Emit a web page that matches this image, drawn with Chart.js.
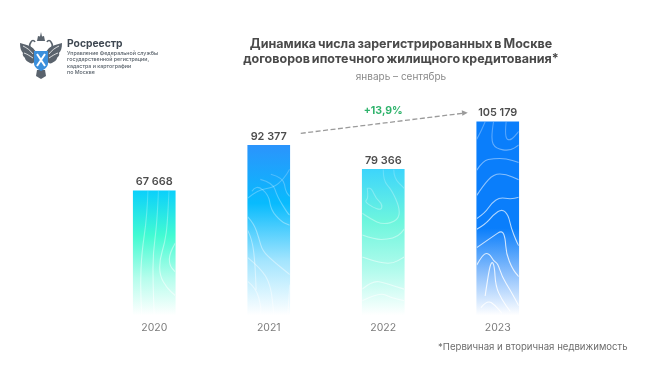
<!DOCTYPE html>
<html lang="ru">
<head>
<meta charset="utf-8">
<title>Динамика числа договоров</title>
<script src="https://cdn.jsdelivr.net/npm/chart.js@4"></script>
<style>
    html, body { margin: 0; padding: 0; background: #fff; }
    #wrap { position: relative; width: 650px; height: 367px; overflow: hidden; font-family: Inter, sans-serif; }
    canvas { position: absolute; left: 0; top: 0; }
    .txt { position: absolute; white-space: nowrap; }
    #heading { left: 200px; width: 402px; top: 36px; text-align: center; font-size: 12.5px; line-height: 15px; font-weight: 700; word-spacing: -1px; color: #4a4a4a; }
    #period { left: 200px; width: 402px; top: 70px; text-align: center; font-size: 10px; color: #8a8a8a; }
    #brand { left: 67px; top: 37px; font-size: 10.3px; font-weight: 700; color: #3f4852; }
    #org { left: 67px; top: 50px; font-size: 5.3px; line-height: 6.4px; font-weight: 500; color: #59626b; }
    #note { left: 438px; top: 341px; font-size: 9.6px; color: #6d6d6d; }
    #logo { position: absolute; left: 19px; top: 32px; }
</style>
</head>
<body>
<div id="wrap">
    <canvas id="chart" width="650" height="367"></canvas>
    <svg id="logo" width="44" height="48" viewBox="0 0 44 48">
        <g fill="#5a636d">
            <path d="M17 21 C15 14 8 13 1 11 C1 16 2 19 4 21 C3 23 5 25 6 26 C6 28 9 30 11 31 C13 32 15 31 16 29 Z"/>
            <path d="M27 21 C29 14 36 13 43 11 C43 16 42 19 40 21 C41 23 39 25 38 26 C38 28 35 30 33 31 C31 32 29 31 28 29 Z"/>
            <path d="M18 9 L19 4 L21 4.5 L22 0 L23 4.5 L25 4 L26 9 Z"/>
            <path d="M18 38 L26 38 L27 44 L22 47 L17 44 Z"/>
        </g>
        <g fill="none" stroke="#5a636d" stroke-width="1.6">
            <path d="M17 20 C11 18 9 14 12 10 C13 8 15 8 16 10"/>
            <path d="M27 20 C33 18 35 14 32 10 C31 8 29 8 28 10"/>
        </g>
        <g fill="none" stroke="#fff" stroke-width="0.8">
            <path d="M4 14 C8 16 11 18 14 22"/>
            <path d="M5 21 C8 22 11 24 14 26"/>
            <path d="M40 14 C36 16 33 18 30 22"/>
            <path d="M39 21 C36 22 33 24 30 26"/>
        </g>
        <path d="M15 19 H29 V31 C29 35 26 37 22 39 C18 37 15 35 15 31 Z" fill="#3a8fdc"/>
        <path d="M18 22 L26 34 M26 22 L18 34" stroke="#fff" stroke-width="2"/>
    </svg>
    <div class="txt" id="brand">Росреестр</div>
    <div class="txt" id="org">Управление Федеральной службы<br>государственной регистрации,<br>кадастра и картографии<br>по Москве</div>
    <div class="txt" id="heading">Динамика числа зарегистрированных в Москве<br>договоров ипотечного жилищного кредитования*</div>
    <div class="txt" id="period">январь – сентябрь</div>
    <div class="txt" id="note">*Первичная и вторичная недвижимость</div>
</div>
<script>
const years = ['2020', '2021', '2022', '2023'];
const contracts = [67668, 92377, 79366, 105179];
const valueLabels = ['67 668', '92 377', '79 366', '105 179'];
const growthLabel = '+13,9%';

// gradient stops per bar, top to bottom
const barStops = [
    [[0, '#0bd0fb'], [0.36, '#42fbd2'], [0.7, '#b5fdec'], [1, '#ffffff']],
    [[0, '#2b94fc'], [0.34, '#08bbfd'], [0.68, '#a4e5fe'], [1, '#ffffff']],
    [[0, '#3dd5fb'], [0.36, '#6ef6dd'], [0.7, '#b4fbed'], [1, '#ffffff']],
    [[0, '#0a7efb'], [0.55, '#0a7efb'], [0.78, '#8bbffc'], [1, '#ffffff']]
];
const contourStrength = [0.6, 0.5, 0.6, 0.9];

// white contour texture inside each bar, in fractions of the bar box
const barContours = [
    [
        [[.35, 0], [.33, .2], [.2, .5], [.17, .75], [.2, 1]],
        [[.6, 0], [.57, .25], [.47, .5], [.47, .75], [.5, 1]],
        [[.85, 0], [.82, .25], [.75, .42], [.63, .55], [.63, .68], [.8, .78], [1, .84]],
        [[1, .42], [.86, .5], [.86, .6], [1, .65]]
    ],
    [
        [[0, .31], [.25, .26], [.6, .25], [.85, .2], [1, .14]],
        [[.1, .27], [.2, .23], [.5, .29], [.55, .38], [.8, .45], [1, .47]],
        [[.3, .2], [.6, .22], [.7, .3], [.95, .4], [1, .41]],
        [[.55, .17], [.85, .19], [.9, .27], [1, .3]],
        [[0, .42], [.15, .46], [.27, .55], [.35, .62], [.6, .68], [1, .76]],
        [[0, .5], [.1, .55], [.17, .68], [.2, .85]],
        [[0, .66], [.3, .72], [.55, .82], [.62, 1]],
        [[0, .8], [.2, .84], [.32, .95], [.3, 1]],
        [[1, .82], [.97, .95], [.95, 1]]
    ],
    [
        [[.5, 0], [.5, .08], [.7, .14], [.9, .27], [.85, .35], [.5, .38], [.2, .34], [0, .3]],
        [[.75, 0], [.75, .06], [1, .13]],
        [[.12, .13], [.15, .2], [.05, .22], [.25, .26], [.45, .28], [.48, .24], [.33, .2], [.22, .13], [.12, .13]],
        [[0, .45], [.3, .48], [.6, .48], [.85, .46], [1, .41]],
        [[0, .6], [.3, .63], [.7, .65], [1, .6]],
        [[0, .82], [.25, .76], [.55, .78], [1, .82]],
        [[0, .9], [.4, .84], [.7, .88], [1, .9]]
    ],
    [
        [[.2, 0], [.1, .05], [0, .09]],
        [[.4, 0], [.33, .09], [.45, .14], [.8, .15], [1, .12]],
        [[.7, 0], [.66, .08], [.8, .1], [1, .05]],
        [[0, .25], [.15, .2], [.4, .19], [.7, .19], [1, .21]],
        [[0, .38], [.15, .33], [.4, .27], [.7, .27], [1, .3]],
        [[0, .5], [.2, .47], [.35, .42], [.55, .39], [.8, .4], [1, .39]],
        [[0, .555], [.2, .53], [.4, .48], [.6, .45], [.75, .48], [.82, .55], [.95, .62], [1, .64]],
        [[0, .65], [.2, .62], [.4, .59], [.6, .56], [.68, .6], [.7, .68], [.85, .76], [1, .8]],
        [[0, .74], [.15, .68], [.3, .68], [.4, .72], [.5, .73], [.6, .8], [.8, .87], [1, .95]],
        [[.2, .9], [.28, .78], [.35, .72], [.42, .74], [.45, .85], [.6, .92], [.8, .98]],
        [[.1, .96], [.25, .92], [.45, .95], [.6, .99]]
    ]
];

const barFill = (ctx) => {
    const chart = ctx.chart;
    if (!chart.chartArea || ctx.dataIndex === undefined) return '#0a7efb';
    const y = chart.scales.y;
    const grad = chart.ctx.createLinearGradient(0, y.getPixelForValue(ctx.raw), 0, y.getPixelForValue(0));
    barStops[ctx.dataIndex].forEach(([pos, color]) => grad.addColorStop(pos, color));
    return grad;
};

const drawContour = (g, points, box) => {
    const px = points.map(([fx, fy]) => [box.x + fx * box.w, box.y + fy * box.h]);
    g.beginPath();
    g.moveTo(px[0][0], px[0][1]);
    for (let i = 1; i < px.length - 1; i++) {
        g.quadraticCurveTo(px[i][0], px[i][1], (px[i][0] + px[i + 1][0]) / 2, (px[i][1] + px[i + 1][1]) / 2);
    }
    g.lineTo(px[px.length - 1][0], px[px.length - 1][1]);
    g.stroke();
};

// contours, value labels and the growth arrow
const barExtras = {
    id: 'barExtras',
    afterDatasetsDraw(chart) {
        const g = chart.ctx;
        const bars = chart.getDatasetMeta(0).data;

        bars.forEach((bar, i) => {
            const box = { x: bar.x - bar.width / 2, y: bar.y, w: bar.width, h: bar.base - bar.y };
            g.save();
            g.beginPath();
            g.rect(box.x, box.y, box.w, box.h);
            g.clip();
            const s = contourStrength[i];
            const stroke = g.createLinearGradient(0, box.y, 0, box.y + box.h);
            stroke.addColorStop(0, `rgba(255,255,255,${0.3 * s})`);
            stroke.addColorStop(0.55, `rgba(255,255,255,${0.8 * s})`);
            stroke.addColorStop(1, `rgba(255,255,255,${s})`);
            g.strokeStyle = stroke;
            g.lineWidth = 1.1;
            barContours[i].forEach(c => drawContour(g, c, box));
            g.restore();

            g.save();
            g.font = '600 10.9px Inter, sans-serif';
            g.fillStyle = '#4d4d4d';
            g.textAlign = 'center';
            g.textBaseline = 'alphabetic';
            g.fillText(valueLabels[i], bar.x, bar.y - 5.5);
            g.restore();
        });

        // arrow between the 2021 and 2023 labels
        const from = bars[1];
        const to = bars[3];
        const x1 = from.x + 32, y1 = from.y - 12;
        const x2 = to.x - 31, y2 = to.y - 9;
        g.save();
        g.strokeStyle = '#9b9b9b';
        g.lineWidth = 1.3;
        g.setLineDash([5, 2.5]);
        g.beginPath();
        g.moveTo(x1, y1);
        g.lineTo(x2 - 4, y2 + 0.5);
        g.stroke();
        g.setLineDash([]);
        g.fillStyle = '#9b9b9b';
        g.beginPath();
        g.moveTo(x2 + 1, y2);
        g.lineTo(x2 - 5, y2 - 2.5);
        g.lineTo(x2 - 4.4, y2 + 3);
        g.closePath();
        g.fill();
        g.font = '700 10.5px Inter, sans-serif';
        g.fillStyle = '#2fb36c';
        g.textAlign = 'center';
        g.fillText(growthLabel, chart.scales.x.getPixelForValue(2), y2 + 1.5);
        g.restore();
    }
};

new Chart(document.getElementById('chart'), {
    type: 'bar',
    data: {
        labels: years,
        datasets: [{
            data: contracts,
            backgroundColor: barFill,
            borderWidth: 0,
            barThickness: 42
        }]
    },
    options: {
        responsive: false,
        animation: false,
        layout: { padding: { left: 97, right: 95, top: 94.5, bottom: 26 } },
        plugins: {
            legend: { display: false },
            tooltip: { enabled: false }
        },
        scales: {
            x: {
                grid: { display: false, drawTicks: false },
                border: { display: false },
                ticks: { color: '#7b7b7b', font: { family: 'Inter, sans-serif', size: 10.5 }, padding: 6.5 }
            },
            y: {
                display: false,
                min: 0,
                max: 120000
            }
        }
    },
    plugins: [barExtras]
});
</script>
</body>
</html>
